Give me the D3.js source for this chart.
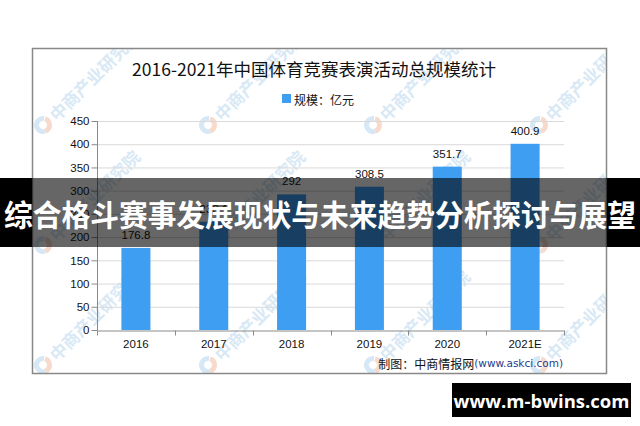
<!DOCTYPE html>
<html><head><meta charset="utf-8">
<script src="https://cdn.jsdelivr.net/npm/d3@7"></script>
<style>
html,body{margin:0;padding:0;background:#fff;}
svg{display:block;}
</style></head>
<body>
<svg id="c" width="640" height="426"></svg>
<script>
const categories = ["2016","2017","2018","2019","2020","2021E"];
const values = [176.8, 233.1, 292, 308.5, 351.7, 400.9];
const valueLabels = ["176.8","233.1","292","308.5","351.7","400.9"];
const yTicks = [0,50,100,150,200,250,300,350,400,450];
const title = "2016-2021年中国体育竞赛表演活动总规模统计";
const legendLabel = "规模：亿元";
const sourceA = "制图：中商情报网";
const sourceB = "(www.askci.com)";
const bannerText = "综合格斗赛事发展现状与未来趋势分析探讨与展望";
const siteText = "www.m-bwins.com";
const watermark = "中商产业研究院";

const svg = d3.select("#c");
const numFont = "'Liberation Sans', Arial, sans-serif";
const cjkFont = "'Noto Sans CJK SC', sans-serif";

// frame
const frame = {x0:32, y0:48, x1:607, y1:374};
svg.append("clipPath").attr("id","fr").append("rect")
  .attr("x",frame.x0).attr("y",frame.y0).attr("width",frame.x1-frame.x0).attr("height",frame.y1-frame.y0);

// watermarks
const wm = svg.append("g").attr("clip-path","url(#fr)");
const wmX = [43,208,373,539];
const wmY = [125,245,365];
wmY.forEach(wy => wmX.forEach(wx => {
  const g = wm.append("g").attr("transform",`translate(${wx},${wy})`);
  g.append("path").attr("d", d3.arc()({innerRadius:4,outerRadius:9,startAngle:Math.PI*0.1,endAngle:Math.PI*0.9}))
    .attr("fill","#f8dacd");
  g.append("path").attr("d", d3.arc()({innerRadius:4,outerRadius:9,startAngle:Math.PI*0.9,endAngle:Math.PI*2.05}))
    .attr("fill","#d6e8f5");
  g.append("text").attr("transform","translate(9,-8) rotate(-45)")
    .attr("font-family",cjkFont).attr("font-size",17).attr("font-weight","bold")
    .attr("fill","#d8e9f5").attr("dominant-baseline","central")
    .text(watermark);
}));

// scales
const x = d3.scaleBand().domain(categories).range([97,564]).paddingInner(0.627).paddingOuter(0.3135);
const y = d3.scaleLinear().domain([0,450]).range([330,121]);

// grid
svg.append("g").selectAll("line").data(yTicks.filter(d=>d>0)).join("line")
  .attr("x1",97).attr("x2",564).attr("y1",d=>y(d)+0.5).attr("y2",d=>y(d)+0.5)
  .attr("stroke","#d9d9d9").attr("stroke-width",1);

// bars
svg.append("g").selectAll("rect").data(values).join("rect")
  .attr("x",(d,i)=>x(categories[i])).attr("width",x.bandwidth())
  .attr("y",d=>y(d)).attr("height",d=>y(0)-y(d))
  .attr("fill","#3e9ff2");

// value labels
svg.append("g").selectAll("text").data(values).join("text")
  .attr("x",(d,i)=>x(categories[i])+x.bandwidth()/2).attr("y",d=>y(d)-9)
  .attr("text-anchor","middle").attr("font-family",numFont).attr("font-size",11.5)
  .attr("fill","#111").text((d,i)=>valueLabels[i]);

// y axis
const ya = svg.append("g").attr("transform","translate(97.5,0)")
  .call(d3.axisLeft(y).tickValues(yTicks).tickSize(6).tickPadding(2));
ya.select(".domain").attr("stroke","#8a8a8a").attr("d","M0,121V330");
ya.selectAll(".tick line").attr("stroke","#8a8a8a");
ya.selectAll("text").attr("font-family",numFont).attr("font-size",11.5).attr("fill","#111");

// x axis
const xa = svg.append("g").attr("transform","translate(0,330.5)")
  .call(d3.axisBottom(x).tickSize(0).tickPadding(9));
xa.select(".domain").attr("stroke","#8a8a8a");
xa.selectAll("text").attr("font-family",numFont).attr("font-size",11.5).attr("fill","#111");
const bounds = d3.range(categories.length+1).map(i => x.range()[0] + i*x.step());
xa.selectAll(".bt").data(bounds).join("line").attr("class","bt")
  .attr("x1",d=>Math.round(d)+0.5).attr("x2",d=>Math.round(d)+0.5).attr("y1",0).attr("y2",5)
  .attr("stroke","#8a8a8a");

// frame border
svg.append("rect").attr("x",frame.x0+0.5).attr("y",frame.y0+0.5)
  .attr("width",frame.x1-frame.x0-1).attr("height",frame.y1-frame.y0-1)
  .attr("fill","none").attr("stroke","#888").attr("stroke-width",1.5);

// title
svg.append("text").attr("x",314).attr("y",68).attr("text-anchor","middle")
  .attr("dominant-baseline","central").attr("font-family",cjkFont)
  .attr("font-size",17.5).attr("fill","#111").text(title);

// legend
svg.append("rect").attr("x",282).attr("y",94).attr("width",9).attr("height",9).attr("fill","#3e9ff2");
svg.append("text").attr("x",294).attr("y",99).attr("dominant-baseline","central")
  .attr("font-family",cjkFont).attr("font-size",12).attr("fill","#111").text(legendLabel);

// source
const src = svg.append("text").attr("x",563).attr("y",363).attr("text-anchor","end")
  .attr("dominant-baseline","central");
src.append("tspan").attr("font-family",cjkFont).attr("font-size",12).attr("fill","#111").text(sourceA);
src.append("tspan").attr("font-family","'DejaVu Sans', sans-serif").attr("font-size",10.5).attr("fill","#1f3d8c").text(sourceB);

// banner overlay
svg.append("rect").attr("x",0).attr("y",178).attr("width",frame.x0).attr("height",69).attr("fill","#000");
svg.append("rect").attr("x",frame.x1).attr("y",178).attr("width",640-frame.x1).attr("height",69).attr("fill","#000");
svg.append("rect").attr("x",frame.x0).attr("y",178).attr("width",frame.x1-frame.x0).attr("height",69).attr("fill","rgba(0,0,0,0.6)");
svg.append("text").attr("x",320).attr("y",213).attr("text-anchor","middle").attr("dominant-baseline","central")
  .attr("font-family",cjkFont).attr("font-weight","bold").attr("font-size",30).attr("fill","#fff")
  .attr("textLength",632).attr("lengthAdjust","spacingAndGlyphs").text(bannerText);

// site box
svg.append("rect").attr("x",452).attr("y",383).attr("width",179).attr("height",34).attr("fill","#000");
svg.append("text").attr("x",541.5).attr("y",400).attr("text-anchor","middle").attr("dominant-baseline","central")
  .attr("font-family","'Open Sans', 'DejaVu Sans', sans-serif").attr("font-weight","bold").attr("font-size",18.5)
  .attr("fill","#fff").text(siteText);
</script>
</body></html>
